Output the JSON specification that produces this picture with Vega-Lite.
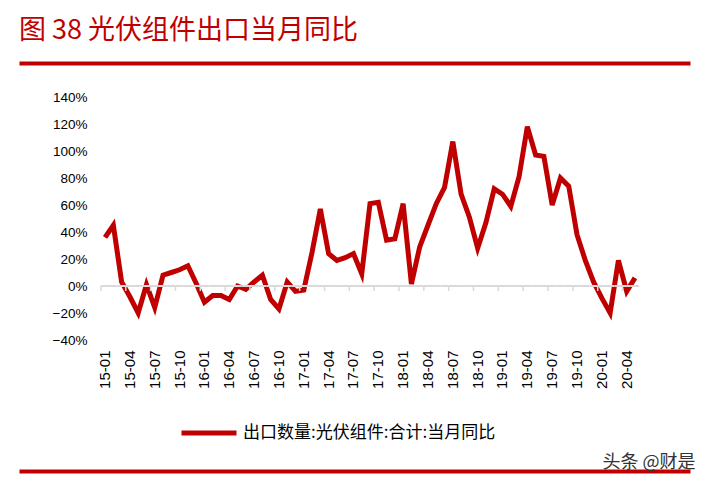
{
  "$schema": "https://vega.github.io/schema/vega-lite/v6.json",
  "width": 671,
  "height": 243,
  "autosize": {"type": "none"},
  "padding": {"left": 19, "right": 18, "top": 97, "bottom": 146},
  "background": "white",
  "config": {
    "view": {"stroke": null},
    "axisY": {"labelFont": "Liberation Sans", "labelFontSize": 13.5, "labelColor": "#000000", "labelOverlap": false, "domain": false, "ticks": false, "tickSize": 0, "grid": false, "labelPadding": 3}
  },
  "title": {
    "text": "图 38 光伏组件出口当月同比",
    "anchor": "start",
    "frame": "group",
    "orient": "top",
    "baseline": "bottom",
    "offset": -9,
    "color": "#C00000",
    "font": "Noto Sans CJK SC",
    "fontSize": 27,
    "fontWeight": "normal"
  },
  "data": {
    "values": [
      {"m": "15-01", "v": 36}, {"m": "15-02", "v": 45}, {"m": "15-03", "v": 3}, {"m": "15-04", "v": -8},
      {"m": "15-05", "v": -20}, {"m": "15-06", "v": 1}, {"m": "15-07", "v": -16}, {"m": "15-08", "v": 8},
      {"m": "15-09", "v": 10}, {"m": "15-10", "v": 12}, {"m": "15-11", "v": 15}, {"m": "15-12", "v": 2},
      {"m": "16-01", "v": -12}, {"m": "16-02", "v": -7}, {"m": "16-03", "v": -7}, {"m": "16-04", "v": -10},
      {"m": "16-05", "v": 0}, {"m": "16-06", "v": -2.5}, {"m": "16-07", "v": 3}, {"m": "16-08", "v": 8},
      {"m": "16-09", "v": -10}, {"m": "16-10", "v": -17}, {"m": "16-11", "v": 3}, {"m": "16-12", "v": -4},
      {"m": "17-01", "v": -3}, {"m": "17-02", "v": 25}, {"m": "17-03", "v": 57}, {"m": "17-04", "v": 24},
      {"m": "17-05", "v": 19}, {"m": "17-06", "v": 21}, {"m": "17-07", "v": 24}, {"m": "17-08", "v": 9},
      {"m": "17-09", "v": 61}, {"m": "17-10", "v": 62}, {"m": "17-11", "v": 34}, {"m": "17-12", "v": 35},
      {"m": "18-01", "v": 61}, {"m": "18-02", "v": 1.5}, {"m": "18-03", "v": 29}, {"m": "18-04", "v": 45},
      {"m": "18-05", "v": 61}, {"m": "18-06", "v": 73}, {"m": "18-07", "v": 107}, {"m": "18-08", "v": 68},
      {"m": "18-09", "v": 51}, {"m": "18-10", "v": 28}, {"m": "18-11", "v": 47}, {"m": "18-12", "v": 72},
      {"m": "19-01", "v": 68}, {"m": "19-02", "v": 59}, {"m": "19-03", "v": 81}, {"m": "19-04", "v": 118},
      {"m": "19-05", "v": 97}, {"m": "19-06", "v": 96}, {"m": "19-07", "v": 60}, {"m": "19-08", "v": 80},
      {"m": "19-09", "v": 74}, {"m": "19-10", "v": 38}, {"m": "19-11", "v": 19}, {"m": "19-12", "v": 3},
      {"m": "20-01", "v": -9}, {"m": "20-02", "v": -20}, {"m": "20-03", "v": 19}, {"m": "20-04", "v": -4},
      {"m": "20-05", "v": 6}
    ]
  },
  "resolve": {"axis": {"x": "independent"}},
  "layer": [
    {
      "mark": {"type": "line", "strokeWidth": 5},
      "encoding": {
        "x": {
          "field": "m", "type": "ordinal",
          "scale": {"type": "band", "paddingInner": 0, "paddingOuter": 0.52, "align": 0.86,
            "domain": ["14-04","14-05","14-06","14-07","14-08","14-09","14-10","14-11","14-12",
              "15-01","15-02","15-03","15-04","15-05","15-06","15-07","15-08","15-09","15-10","15-11","15-12",
              "16-01","16-02","16-03","16-04","16-05","16-06","16-07","16-08","16-09","16-10","16-11","16-12",
              "17-01","17-02","17-03","17-04","17-05","17-06","17-07","17-08","17-09","17-10","17-11","17-12",
              "18-01","18-02","18-03","18-04","18-05","18-06","18-07","18-08","18-09","18-10","18-11","18-12",
              "19-01","19-02","19-03","19-04","19-05","19-06","19-07","19-08","19-09","19-10","19-11","19-12",
              "20-01","20-02","20-03","20-04","20-05","20-06","20-07","20-08","20-09","20-10","20-11"]},
          "axis": {"orient": "bottom", "values": ["15-01","15-04","15-07","15-10","16-01","16-04","16-07","16-10","17-01","17-04","17-07","17-10","18-01","18-04","18-07","18-10","19-01","19-04","19-07","19-10","20-01","20-04"],
            "labelAngle": -90, "domain": false, "ticks": false, "tickSize": 0, "labelPadding": 10, "grid": false, "title": null,
            "labelFont": "Liberation Sans", "labelFontSize": 15, "labelColor": "#000000"}
        },
        "y": {
          "field": "v", "type": "quantitative",
          "scale": {"domain": [-40, 140], "nice": false, "zero": false},
          "axis": {"values": [-40, -20, 0, 20, 40, 60, 80, 100, 120, 140], "labelExpr": "format(datum.value, 'd') + '%'", "offset": -71, "title": null}
        },
        "color": {
          "datum": "出口数量:光伏组件:合计:当月同比",
          "scale": {"range": ["#C00000"]},
          "legend": {"orient": "none", "legendX": 160, "legendY": 306, "title": null, "padding": 0,
            "symbolType": "stroke", "symbolSize": 3025, "symbolStrokeWidth": 5, "labelOffset": 4, "labelLimit": 0,
            "labelFont": "Noto Sans CJK SC", "labelFontSize": 17, "labelColor": "#000000"}
        }
      }
    },
    {
      "mark": {"type": "bar", "fillOpacity": 0, "stroke": "#d9d9d9", "strokeWidth": 2},
      "encoding": {
        "x": {
          "field": "m", "type": "ordinal",
          "axis": {"orient": "top", "offset": 34, "domain": true, "domainColor": "#C00000", "domainWidth": 4, "ticks": false, "labels": false, "grid": false, "title": null}
        },
        "y": {"datum": 0, "axis": {"values": [-40, -20, 0, 20, 40, 60, 80, 100, 120, 140], "labelExpr": "format(datum.value, 'd') + '%'", "offset": -71, "title": null}},
        "y2": {"datum": 0}
      }
    },
    {
      "transform": [{"filter": {"field": "m", "oneOf": ["15-01","15-04","15-07","15-10","16-01","16-04","16-07","16-10","17-01","17-04","17-07","17-10","18-01","18-04","18-07","18-10","19-01","19-04","19-07","19-10","20-01","20-04"]}}],
      "mark": {"type": "rule", "color": "#d9d9d9", "strokeWidth": 1.5},
      "encoding": {
        "x": {
          "field": "m", "type": "ordinal", "bandPosition": 0,
          "axis": {"orient": "bottom", "offset": 131, "domain": true, "domainColor": "#C00000", "domainWidth": 4, "ticks": false, "labels": false, "grid": false,
            "title": "头条 @财是", "titleX": 676, "titleY": -9, "titleAlign": "right", "titleBaseline": "middle", "titleAnchor": null,
            "titleFont": "Noto Sans CJK SC", "titleFontSize": 18, "titleFontWeight": "normal", "titleColor": "#333333"}
        },
        "y": {"datum": 0, "axis": {"values": [-40, -20, 0, 20, 40, 60, 80, 100, 120, 140], "labelExpr": "format(datum.value, 'd') + '%'", "offset": -71, "title": null}},
        "y2": {"datum": -3.7}
      }
    }
  ]
}
